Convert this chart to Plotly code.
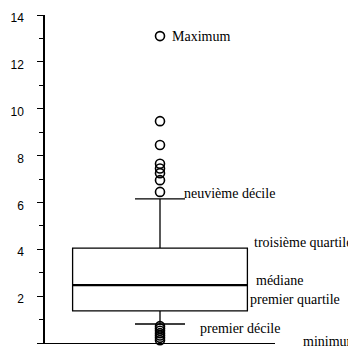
import plotly.graph_objects as go

# Box statistics
q1 = 1.37
median = 2.47
q3 = 4.05
decile1 = 0.81
decile9 = 6.15

# Outliers
upper_outliers = [13.1, 9.47, 8.45, 7.65, 7.45, 7.25, 6.95, 6.45]
lower_outliers = [0.72, 0.62, 0.52, 0.42, 0.32, 0.22, 0.12]

# Labels
labels = ["Maximum", "neuvième décile", "troisième quartile", "médiane",
          "premier quartile", "premier décile", "minimum"]
label_y = [13.1, 6.4, 4.27, 2.65, 1.84, 0.6, 0.08]
label_x = [0.548, 0.60, 0.904, 0.913, 0.887, 0.67, 1.117]  # paper fraction

yticks = [0, 2, 4, 6, 8, 10, 12, 14]

box_x = 0
box_w = 0.76

fig = go.Figure()
fig.add_trace(go.Box(
    x=[box_x], q1=[q1], median=[median], q3=[q3],
    lowerfence=[decile1], upperfence=[decile9],
    width=box_w, whiskerwidth=0.286, boxpoints=False,
    fillcolor="rgba(0,0,0,0)", line=dict(color="black", width=1.3),
    hoverinfo="skip", showlegend=False,
))
fig.add_trace(go.Scatter(
    x=[box_x - box_w / 2, box_x + box_w / 2], y=[median, median],
    mode="lines", line=dict(color="black", width=2.2), showlegend=False,
))
outs = upper_outliers + lower_outliers
fig.add_trace(go.Scatter(
    x=[box_x] * len(outs), y=outs, mode="markers", cliponaxis=False,
    marker=dict(symbol="circle-open", size=9, color="black", line=dict(width=1.6)),
    showlegend=False,
))

for t, x, y in zip(labels, label_x, label_y):
    fig.add_annotation(x=x, y=y, xref="paper", yref="y", text=t, showarrow=False,
                       xanchor="left", yanchor="middle", borderpad=0,
                       font=dict(family="Liberation Serif", size=14, color="black"))

# The page body has an 8px default margin; the figure is sized to fill the window.
fig.update_layout(
    width=348, height=341,
    margin=dict(l=37, r=81, t=7, b=6),
    paper_bgcolor="white", plot_bgcolor="white",
    showlegend=False,
    xaxis=dict(range=[-0.5, 0.5], showgrid=False, zeroline=False, automargin=False,
               showticklabels=False, ticks="", showline=True,
               linecolor="black", linewidth=1.3),
    yaxis=dict(range=[0, 14], tickvals=yticks, showgrid=False, zeroline=False,
               automargin=False,
               showline=True, linecolor="black", linewidth=1.5,
               ticks="outside", ticklen=6, tickwidth=1.3, tickcolor="black",
               ticklabelstandoff=11, ticklabelshift=3,
               tickfont=dict(family="Liberation Sans", size=12, color="black"),
               minor=dict(tickvals=[1, 3, 5, 7, 9, 11, 13], ticks="outside",
                          ticklen=4, tickwidth=1.3, tickcolor="black")),
)

fig.write_html("out.html")
